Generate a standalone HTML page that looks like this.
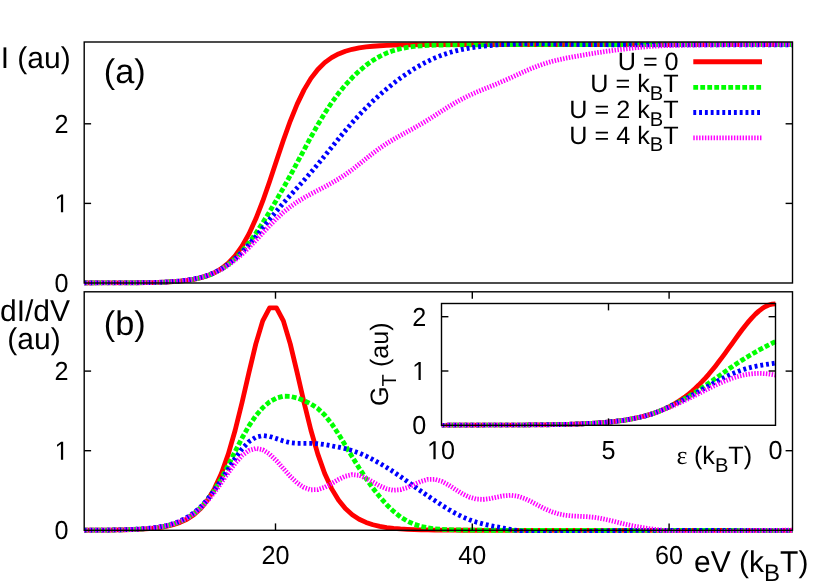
<!DOCTYPE html>
<html><head><meta charset="utf-8"><title>I-V and dI/dV</title>
<style>html,body{margin:0;padding:0;background:#fff;}body{width:830px;height:581px;overflow:hidden;position:relative;font-family:"Liberation Sans",sans-serif;}</style>
</head><body>
<svg width="830" height="581" viewBox="0 0 830 581" style="position:absolute;left:0;top:0;font-family:'Liberation Sans',sans-serif;will-change:transform" shape-rendering="geometricPrecision" text-rendering="geometricPrecision">
<rect x="0" y="0" width="830" height="581" fill="#ffffff"/>
<defs>
<clipPath id="ca"><rect x="84.2" y="42.0" width="708.3" height="243.6"/></clipPath>
<clipPath id="cb"><rect x="84.2" y="291.8" width="708.3" height="241.09999999999994"/></clipPath>
<clipPath id="ci"><rect x="441.5" y="301.1" width="335.0" height="126.4"/></clipPath>
</defs>
<g clip-path="url(#ca)">
<path d="M83.62,282.99 L90.51,282.98 L97.40,282.97 L104.28,282.96 L111.17,282.94 L118.06,282.92 L124.95,282.89 L131.84,282.84 L138.72,282.77 L145.61,282.68 L152.50,282.54 L159.39,282.35 L166.28,282.08 L173.16,281.69 L180.05,281.15 L186.94,280.38 L193.83,279.30 L200.72,277.78 L207.60,275.66 L214.49,272.72 L221.38,268.67 L228.27,263.17 L235.16,255.81 L242.04,246.17 L248.93,233.91 L255.82,218.87 L262.71,201.22 L269.60,181.53 L276.48,160.80 L283.37,140.25 L290.26,121.06 L297.15,104.11 L304.04,89.86 L310.92,78.38 L317.81,69.44 L324.70,62.65 L331.59,57.60 L338.48,53.90 L345.36,51.22 L352.25,49.29 L359.14,47.91 L366.03,46.93 L372.92,46.24 L379.80,45.74 L386.69,45.39 L393.58,45.15 L400.47,44.97 L407.36,44.85 L414.24,44.76 L421.13,44.70 L428.02,44.66 L434.91,44.63 L441.80,44.61 L448.68,44.59 L455.57,44.58 L462.46,44.58 L469.35,44.57 L476.24,44.57 L483.12,44.56 L490.01,44.56 L496.90,44.56 L503.79,44.56 L510.68,44.56 L517.56,44.56 L524.45,44.56 L531.34,44.56 L538.23,44.56 L545.12,44.56 L552.00,44.56 L558.89,44.56 L565.78,44.56 L572.67,44.56 L579.56,44.56 L586.44,44.56 L593.33,44.56 L600.22,44.56 L607.11,44.56 L614.00,44.56 L620.88,44.56 L627.77,44.56 L634.66,44.56 L641.55,44.56 L648.44,44.56 L655.32,44.56 L662.21,44.56 L669.10,44.56 L675.99,44.56 L682.88,44.56 L689.76,44.56 L696.65,44.56 L703.54,44.56 L710.43,44.56 L717.32,44.56 L724.20,44.56 L731.09,44.56 L737.98,44.56 L744.87,44.56 L751.76,44.56 L758.64,44.56 L765.53,44.56 L772.42,44.56 L779.31,44.56 L786.20,44.56 L793.08,44.56" fill="none" stroke="#ff0000" stroke-width="4.8" stroke-linejoin="round" stroke-linecap="butt"/>
<path d="M83.62,283.00 L90.51,282.99 L97.40,282.98 L104.28,282.96 L111.17,282.94 L118.06,282.92 L124.95,282.88 L131.84,282.83 L138.72,282.76 L145.61,282.67 L152.50,282.53 L159.39,282.33 L166.28,282.05 L173.16,281.65 L180.05,281.10 L186.94,280.32 L193.83,279.25 L200.72,277.75 L207.60,275.71 L214.49,272.95 L221.38,269.30 L228.27,264.57 L235.16,258.61 L242.04,251.37 L248.93,242.88 L255.82,233.29 L262.71,222.82 L269.60,211.68 L276.48,200.02 L283.37,187.94 L290.26,175.48 L297.15,162.71 L304.04,149.81 L310.92,137.03 L317.81,124.73 L324.70,113.24 L331.59,102.78 L338.48,93.40 L345.36,85.04 L352.25,77.61 L359.14,71.03 L366.03,65.29 L372.92,60.39 L379.80,56.32 L386.69,53.07 L393.58,50.56 L400.47,48.71 L407.36,47.38 L414.24,46.47 L421.13,45.86 L428.02,45.46 L434.91,45.20 L441.80,45.03 L448.68,44.92 L455.57,44.85 L462.46,44.80 L469.35,44.77 L476.24,44.74 L483.12,44.73 L490.01,44.72 L496.90,44.71 L503.79,44.70 L510.68,44.70 L517.56,44.70 L524.45,44.70 L531.34,44.70 L538.23,44.69 L545.12,44.69 L552.00,44.69 L558.89,44.69 L565.78,44.69 L572.67,44.69 L579.56,44.69 L586.44,44.69 L593.33,44.69 L600.22,44.69 L607.11,44.69 L614.00,44.69 L620.88,44.69 L627.77,44.69 L634.66,44.69 L641.55,44.69 L648.44,44.69 L655.32,44.69 L662.21,44.69 L669.10,44.69 L675.99,44.69 L682.88,44.69 L689.76,44.69 L696.65,44.69 L703.54,44.69 L710.43,44.69 L717.32,44.69 L724.20,44.69 L731.09,44.69 L737.98,44.69 L744.87,44.69 L751.76,44.69 L758.64,44.69 L765.53,44.69 L772.42,44.69 L779.31,44.69 L786.20,44.69 L793.08,44.69" fill="none" stroke="#00ff00" stroke-width="4.8" stroke-linejoin="round" stroke-linecap="butt" stroke-dasharray="4.8 2.2"/>
<path d="M83.62,283.00 L90.51,282.99 L97.40,282.97 L104.28,282.96 L111.17,282.94 L118.06,282.91 L124.95,282.87 L131.84,282.82 L138.72,282.75 L145.61,282.64 L152.50,282.49 L159.39,282.28 L166.28,281.98 L173.16,281.55 L180.05,280.96 L186.94,280.14 L193.83,279.01 L200.72,277.45 L207.60,275.35 L214.49,272.56 L221.38,268.94 L228.27,264.36 L235.16,258.76 L242.04,252.15 L248.93,244.65 L255.82,236.49 L262.71,227.98 L269.60,219.44 L276.48,211.10 L283.37,203.09 L290.26,195.38 L297.15,187.82 L304.04,180.22 L310.92,172.40 L317.81,164.30 L324.70,155.94 L331.59,147.43 L338.48,138.93 L345.36,130.62 L352.25,122.60 L359.14,114.98 L366.03,107.81 L372.92,101.08 L379.80,94.78 L386.69,88.86 L393.58,83.29 L400.47,78.07 L407.36,73.22 L414.24,68.77 L421.13,64.74 L428.02,61.12 L434.91,57.94 L441.80,55.18 L448.68,52.85 L455.57,50.91 L462.46,49.33 L469.35,48.05 L476.24,47.03 L483.12,46.20 L490.01,45.52 L496.90,44.96 L503.79,44.51 L510.68,44.17 L517.56,43.93 L524.45,43.79 L531.34,43.74 L538.23,43.76 L545.12,43.85 L552.00,43.97 L558.89,44.11 L565.78,44.25 L572.67,44.37 L579.56,44.48 L586.44,44.56 L593.33,44.63 L600.22,44.68 L607.11,44.72 L614.00,44.75 L620.88,44.77 L627.77,44.78 L634.66,44.79 L641.55,44.80 L648.44,44.80 L655.32,44.81 L662.21,44.81 L669.10,44.81 L675.99,44.81 L682.88,44.81 L689.76,44.82 L696.65,44.82 L703.54,44.82 L710.43,44.82 L717.32,44.82 L724.20,44.82 L731.09,44.82 L737.98,44.82 L744.87,44.82 L751.76,44.82 L758.64,44.82 L765.53,44.82 L772.42,44.82 L779.31,44.82 L786.20,44.82 L793.08,44.82" fill="none" stroke="#0000ff" stroke-width="4.8" stroke-linejoin="round" stroke-linecap="butt" stroke-dasharray="2.9 2.9"/>
<path d="M83.62,283.00 L90.51,282.99 L97.40,282.97 L104.28,282.96 L111.17,282.94 L118.06,282.91 L124.95,282.87 L131.84,282.82 L138.72,282.74 L145.61,282.63 L152.50,282.48 L159.39,282.27 L166.28,281.97 L173.16,281.54 L180.05,280.95 L186.94,280.14 L193.83,279.01 L200.72,277.49 L207.60,275.46 L214.49,272.79 L221.38,269.39 L228.27,265.16 L235.16,260.07 L242.04,254.15 L248.93,247.52 L255.82,240.36 L262.71,232.96 L269.60,225.62 L276.48,218.67 L283.37,212.35 L290.26,206.78 L297.15,201.95 L304.04,197.75 L310.92,193.97 L317.81,190.40 L324.70,186.81 L331.59,183.04 L338.48,178.97 L345.36,174.52 L352.25,169.59 L359.14,164.22 L366.03,158.66 L372.92,153.23 L379.80,148.14 L386.69,143.52 L393.58,139.33 L400.47,135.45 L407.36,131.71 L414.24,127.94 L421.13,124.00 L428.02,119.83 L434.91,115.46 L441.80,111.01 L448.68,106.64 L455.57,102.53 L462.46,98.76 L469.35,95.37 L476.24,92.29 L483.12,89.43 L490.01,86.64 L496.90,83.81 L503.79,80.85 L510.68,77.77 L517.56,74.61 L524.45,71.48 L531.34,68.51 L538.23,65.82 L545.12,63.46 L552.00,61.44 L558.89,59.72 L565.78,58.23 L572.67,56.90 L579.56,55.66 L586.44,54.49 L593.33,53.35 L600.22,52.26 L607.11,51.24 L614.00,50.30 L620.88,49.44 L627.77,48.63 L634.66,47.86 L641.55,47.15 L648.44,46.55 L655.32,46.10 L662.21,45.77 L669.10,45.54 L675.99,45.38 L682.88,45.24 L689.76,45.12 L696.65,45.02 L703.54,44.92 L710.43,44.84 L717.32,44.76 L724.20,44.70 L731.09,44.64 L737.98,44.59 L744.87,44.55 L751.76,44.52 L758.64,44.49 L765.53,44.47 L772.42,44.45 L779.31,44.43 L786.20,44.41 L793.08,44.40" fill="none" stroke="#ff00ff" stroke-width="4.8" stroke-linejoin="round" stroke-linecap="butt" stroke-dasharray="1.45 1.45"/>
</g>
<g clip-path="url(#cb)">
<path d="M83.62,530.24 L90.51,530.22 L97.40,530.18 L104.28,530.13 L111.17,530.06 L118.06,529.96 L124.95,529.81 L131.84,529.61 L138.72,529.32 L145.61,528.91 L152.50,528.33 L159.39,527.51 L166.28,526.36 L173.16,524.72 L180.05,522.43 L186.94,519.21 L193.83,514.73 L200.72,508.54 L207.60,500.06 L214.49,488.62 L221.38,473.52 L228.27,454.15 L235.16,430.29 L242.04,402.51 L248.93,372.63 L255.82,343.93 L262.71,320.86 L269.60,307.90 L276.48,307.90 L283.37,320.86 L290.26,343.93 L297.15,372.63 L304.04,402.51 L310.92,430.29 L317.81,454.15 L324.70,473.52 L331.59,488.62 L338.48,500.06 L345.36,508.54 L352.25,514.73 L359.14,519.21 L366.03,522.43 L372.92,524.72 L379.80,526.36 L386.69,527.51 L393.58,528.33 L400.47,528.91 L407.36,529.32 L414.24,529.61 L421.13,529.81 L428.02,529.96 L434.91,530.06 L441.80,530.13 L448.68,530.18 L455.57,530.22 L462.46,530.24 L469.35,530.26 L476.24,530.27 L483.12,530.28 L490.01,530.29 L496.90,530.29 L503.79,530.29 L510.68,530.29 L517.56,530.30 L524.45,530.30 L531.34,530.30 L538.23,530.30 L545.12,530.30 L552.00,530.30 L558.89,530.30 L565.78,530.30 L572.67,530.30 L579.56,530.30 L586.44,530.30 L593.33,530.30 L600.22,530.30 L607.11,530.30 L614.00,530.30 L620.88,530.30 L627.77,530.30 L634.66,530.30 L641.55,530.30 L648.44,530.30 L655.32,530.30 L662.21,530.30 L669.10,530.30 L675.99,530.30 L682.88,530.30 L689.76,530.30 L696.65,530.30 L703.54,530.30 L710.43,530.30 L717.32,530.30 L724.20,530.30 L731.09,530.30 L737.98,530.30 L744.87,530.30 L751.76,530.30 L758.64,530.30 L765.53,530.30 L772.42,530.30 L779.31,530.30 L786.20,530.30 L793.08,530.30" fill="none" stroke="#ff0000" stroke-width="4.8" stroke-linejoin="round" stroke-linecap="butt"/>
<path d="M83.62,530.20 L90.51,530.18 L97.40,530.15 L104.28,530.10 L111.17,530.02 L118.06,529.90 L124.95,529.74 L131.84,529.51 L138.72,529.19 L145.61,528.73 L152.50,528.08 L159.39,527.17 L166.28,525.89 L173.16,524.10 L180.05,521.63 L186.94,518.25 L193.83,513.67 L200.72,507.61 L207.60,499.77 L214.49,490.01 L221.38,478.36 L228.27,465.24 L235.16,451.44 L242.04,438.00 L248.93,425.89 L255.82,415.76 L262.71,407.76 L269.60,401.84 L276.48,397.98 L283.37,396.20 L290.26,396.37 L297.15,398.00 L304.04,400.56 L310.92,403.92 L317.81,408.52 L324.70,415.01 L331.59,423.64 L338.48,434.01 L345.36,445.36 L352.25,456.89 L359.14,468.04 L366.03,478.49 L372.92,488.13 L379.80,496.89 L386.69,504.68 L393.58,511.38 L400.47,516.88 L407.36,521.15 L414.24,524.28 L421.13,526.44 L428.02,527.88 L434.91,528.79 L441.80,529.35 L448.68,529.70 L455.57,529.92 L462.46,530.05 L469.35,530.14 L476.24,530.19 L483.12,530.23 L490.01,530.25 L496.90,530.26 L503.79,530.28 L510.68,530.28 L517.56,530.29 L524.45,530.29 L531.34,530.29 L538.23,530.30 L545.12,530.30 L552.00,530.30 L558.89,530.30 L565.78,530.30 L572.67,530.30 L579.56,530.30 L586.44,530.30 L593.33,530.30 L600.22,530.30 L607.11,530.30 L614.00,530.30 L620.88,530.30 L627.77,530.30 L634.66,530.30 L641.55,530.30 L648.44,530.30 L655.32,530.30 L662.21,530.30 L669.10,530.30 L675.99,530.30 L682.88,530.30 L689.76,530.30 L696.65,530.30 L703.54,530.30 L710.43,530.30 L717.32,530.30 L724.20,530.30 L731.09,530.30 L737.98,530.30 L744.87,530.30 L751.76,530.30 L758.64,530.30 L765.53,530.30 L772.42,530.30 L779.31,530.30 L786.20,530.30 L793.08,530.30" fill="none" stroke="#00ff00" stroke-width="4.8" stroke-linejoin="round" stroke-linecap="butt" stroke-dasharray="4.8 2.2"/>
<path d="M83.62,530.19 L90.51,530.17 L97.40,530.13 L104.28,530.08 L111.17,529.99 L118.06,529.87 L124.95,529.69 L131.84,529.44 L138.72,529.09 L145.61,528.59 L152.50,527.89 L159.39,526.90 L166.28,525.53 L173.16,523.63 L180.05,521.02 L186.94,517.50 L193.83,512.83 L200.72,506.79 L207.60,499.24 L214.49,490.19 L221.38,479.93 L228.27,469.03 L235.16,458.37 L242.04,448.94 L248.93,441.66 L255.82,437.17 L262.71,435.59 L269.60,436.42 L276.48,438.63 L283.37,441.03 L290.26,442.70 L297.15,443.37 L304.04,443.36 L310.92,443.30 L317.81,443.69 L324.70,444.61 L331.59,445.86 L338.48,447.22 L345.36,448.69 L352.25,450.53 L359.14,452.97 L366.03,456.03 L372.92,459.56 L379.80,463.39 L386.69,467.47 L393.58,471.86 L400.47,476.58 L407.36,481.50 L414.24,486.45 L421.13,491.29 L428.02,496.00 L434.91,500.63 L441.80,505.15 L448.68,509.47 L455.57,513.43 L462.46,516.88 L469.35,519.75 L476.24,522.07 L483.12,523.95 L490.01,525.52 L496.90,526.90 L503.79,528.18 L510.68,529.40 L517.56,530.57 L524.45,531.63 L531.34,532.52 L538.23,533.16 L545.12,533.50 L552.00,533.54 L558.89,533.34 L565.78,532.96 L572.67,532.51 L579.56,532.07 L586.44,531.66 L593.33,531.33 L600.22,531.06 L607.11,530.85 L614.00,530.70 L620.88,530.59 L627.77,530.50 L634.66,530.45 L641.55,530.40 L648.44,530.37 L655.32,530.35 L662.21,530.34 L669.10,530.33 L675.99,530.32 L682.88,530.31 L689.76,530.31 L696.65,530.31 L703.54,530.30 L710.43,530.30 L717.32,530.30 L724.20,530.30 L731.09,530.30 L737.98,530.30 L744.87,530.30 L751.76,530.30 L758.64,530.30 L765.53,530.30 L772.42,530.30 L779.31,530.30 L786.20,530.30 L793.08,530.30" fill="none" stroke="#0000ff" stroke-width="4.8" stroke-linejoin="round" stroke-linecap="butt" stroke-dasharray="2.9 2.9"/>
<path d="M83.62,530.20 L90.51,530.18 L97.40,530.14 L104.28,530.09 L111.17,530.01 L118.06,529.89 L124.95,529.72 L131.84,529.49 L138.72,529.15 L145.61,528.68 L152.50,528.01 L159.39,527.08 L166.28,525.77 L173.16,523.97 L180.05,521.49 L186.94,518.15 L193.83,513.70 L200.72,507.96 L207.60,500.79 L214.49,492.24 L221.38,482.65 L228.27,472.69 L235.16,463.32 L242.04,455.60 L248.93,450.45 L255.82,448.46 L262.71,449.77 L269.60,454.10 L276.48,460.71 L283.37,468.52 L290.26,476.29 L297.15,482.91 L304.04,487.55 L310.92,489.81 L317.81,489.62 L324.70,487.33 L331.59,483.61 L338.48,479.50 L345.36,476.16 L352.25,474.61 L359.14,475.32 L366.03,478.06 L372.92,481.97 L379.80,485.92 L386.69,488.90 L393.58,490.23 L400.47,489.70 L407.36,487.54 L414.24,484.42 L421.13,481.35 L428.02,479.37 L434.91,479.30 L441.80,481.34 L448.68,485.05 L455.57,489.55 L462.46,493.85 L469.35,497.16 L476.24,499.05 L483.12,499.43 L490.01,498.60 L496.90,497.13 L503.79,495.79 L510.68,495.31 L517.56,496.18 L524.45,498.43 L531.34,501.72 L538.23,505.42 L545.12,508.95 L552.00,511.88 L558.89,513.99 L565.78,515.29 L572.67,515.97 L579.56,516.31 L586.44,516.66 L593.33,517.27 L600.22,518.30 L607.11,519.73 L614.00,521.40 L620.88,523.14 L627.77,524.78 L634.66,526.25 L641.55,527.50 L648.44,528.55 L655.32,529.43 L662.21,530.19 L669.10,530.85 L675.99,531.40 L682.88,531.83 L689.76,532.12 L696.65,532.25 L703.54,532.22 L710.43,532.05 L717.32,531.80 L724.20,531.51 L731.09,531.22 L737.98,530.96 L744.87,530.74 L751.76,530.57 L758.64,530.44 L765.53,530.36 L772.42,530.30 L779.31,530.28 L786.20,530.27 L793.08,530.27" fill="none" stroke="#ff00ff" stroke-width="4.8" stroke-linejoin="round" stroke-linecap="butt" stroke-dasharray="1.45 1.45"/>
</g>
<g clip-path="url(#ci)">
<path d="M441.50,425.28 L444.84,425.28 L448.18,425.27 L451.52,425.27 L454.86,425.27 L458.20,425.26 L461.54,425.26 L464.88,425.26 L468.22,425.25 L471.56,425.25 L474.90,425.24 L478.24,425.23 L481.58,425.23 L484.92,425.22 L488.26,425.21 L491.60,425.20 L494.94,425.19 L498.28,425.18 L501.62,425.17 L504.96,425.15 L508.30,425.14 L511.64,425.12 L514.98,425.10 L518.32,425.08 L521.66,425.06 L525.00,425.03 L528.34,425.00 L531.68,424.97 L535.02,424.94 L538.36,424.90 L541.70,424.86 L545.04,424.81 L548.38,424.76 L551.72,424.70 L555.06,424.64 L558.40,424.57 L561.74,424.50 L565.08,424.41 L568.42,424.32 L571.76,424.22 L575.10,424.10 L578.44,423.98 L581.78,423.84 L585.12,423.69 L588.46,423.52 L591.80,423.33 L595.14,423.13 L598.48,422.90 L601.82,422.65 L605.16,422.37 L608.50,422.07 L611.84,421.74 L615.18,421.37 L618.52,420.96 L621.86,420.51 L625.20,420.02 L628.54,419.48 L631.88,418.88 L635.22,418.23 L638.56,417.51 L641.90,416.72 L645.24,415.85 L648.58,414.90 L651.92,413.86 L655.26,412.72 L658.60,411.48 L661.94,410.12 L665.28,408.63 L668.62,407.02 L671.96,405.26 L675.30,403.35 L678.64,401.28 L681.98,399.04 L685.32,396.63 L688.66,394.03 L692.00,391.24 L695.34,388.25 L698.68,385.06 L702.02,381.67 L705.36,378.08 L708.70,374.29 L712.04,370.31 L715.38,366.15 L718.72,361.84 L722.06,357.39 L725.40,352.83 L728.74,348.20 L732.08,343.53 L735.42,338.87 L738.76,334.26 L742.10,329.77 L745.44,325.45 L748.78,321.37 L752.12,317.57 L755.46,314.14 L758.80,311.12 L762.14,308.56 L765.48,306.52 L768.82,305.04 L772.16,304.13 L775.50,303.83" fill="none" stroke="#ff0000" stroke-width="4.8" stroke-linejoin="round" stroke-linecap="butt"/>
<path d="M441.50,425.28 L444.84,425.28 L448.18,425.27 L451.52,425.27 L454.86,425.27 L458.20,425.26 L461.54,425.26 L464.88,425.26 L468.22,425.25 L471.56,425.25 L474.90,425.24 L478.24,425.23 L481.58,425.23 L484.92,425.22 L488.26,425.21 L491.60,425.20 L494.94,425.19 L498.28,425.18 L501.62,425.17 L504.96,425.15 L508.30,425.14 L511.64,425.12 L514.98,425.10 L518.32,425.08 L521.66,425.06 L525.00,425.03 L528.34,425.00 L531.68,424.97 L535.02,424.94 L538.36,424.90 L541.70,424.86 L545.04,424.81 L548.38,424.76 L551.72,424.70 L555.06,424.64 L558.40,424.57 L561.74,424.50 L565.08,424.41 L568.42,424.32 L571.76,424.22 L575.10,424.10 L578.44,423.98 L581.78,423.84 L585.12,423.69 L588.46,423.52 L591.80,423.33 L595.14,423.13 L598.48,422.90 L601.82,422.65 L605.16,422.37 L608.50,422.07 L611.84,421.74 L615.18,421.37 L618.52,420.96 L621.86,420.51 L625.20,420.02 L628.54,419.48 L631.88,418.88 L635.22,418.23 L638.56,417.51 L641.90,416.72 L645.24,415.85 L648.58,414.90 L651.92,413.86 L655.26,412.72 L658.60,411.48 L661.94,410.12 L665.28,408.63 L668.62,407.02 L671.96,405.48 L675.30,403.86 L678.64,402.14 L681.98,400.34 L685.32,398.45 L688.66,396.47 L692.00,394.41 L695.34,392.28 L698.68,390.09 L702.02,387.84 L705.36,385.54 L708.70,383.21 L712.04,380.85 L715.38,378.47 L718.72,376.09 L722.06,373.72 L725.40,371.36 L728.74,369.04 L732.08,366.74 L735.42,364.49 L738.76,362.29 L742.10,360.13 L745.44,358.03 L748.78,355.99 L752.12,354.01 L755.46,352.08 L758.80,350.21 L762.14,348.39 L765.48,346.63 L768.82,344.92 L772.16,343.25 L775.50,341.62" fill="none" stroke="#00ff00" stroke-width="4.8" stroke-linejoin="round" stroke-linecap="butt" stroke-dasharray="4.8 2.2"/>
<path d="M441.50,425.28 L444.84,425.28 L448.18,425.27 L451.52,425.27 L454.86,425.27 L458.20,425.26 L461.54,425.26 L464.88,425.26 L468.22,425.25 L471.56,425.25 L474.90,425.24 L478.24,425.23 L481.58,425.23 L484.92,425.22 L488.26,425.21 L491.60,425.20 L494.94,425.19 L498.28,425.18 L501.62,425.17 L504.96,425.15 L508.30,425.14 L511.64,425.12 L514.98,425.10 L518.32,425.08 L521.66,425.06 L525.00,425.03 L528.34,425.00 L531.68,424.97 L535.02,424.94 L538.36,424.90 L541.70,424.86 L545.04,424.81 L548.38,424.76 L551.72,424.70 L555.06,424.64 L558.40,424.57 L561.74,424.50 L565.08,424.41 L568.42,424.32 L571.76,424.22 L575.10,424.10 L578.44,423.98 L581.78,423.84 L585.12,423.69 L588.46,423.52 L591.80,423.33 L595.14,423.13 L598.48,422.90 L601.82,422.65 L605.16,422.37 L608.50,422.07 L611.84,421.74 L615.18,421.37 L618.52,420.96 L621.86,420.51 L625.20,420.02 L628.54,419.48 L631.88,418.88 L635.22,418.23 L638.56,417.51 L641.90,416.72 L645.24,415.85 L648.58,414.90 L651.92,413.86 L655.26,412.72 L658.60,411.48 L661.94,410.12 L665.28,408.63 L668.62,407.02 L671.96,405.27 L675.30,403.75 L678.64,402.17 L681.98,400.52 L685.32,398.82 L688.66,397.06 L692.00,395.25 L695.34,393.41 L698.68,391.53 L702.02,389.64 L705.36,387.75 L708.70,385.85 L712.04,383.98 L715.38,382.14 L718.72,380.34 L722.06,378.60 L725.40,376.93 L728.74,375.34 L732.08,373.84 L735.42,372.44 L738.76,371.15 L742.10,369.97 L745.44,368.91 L748.78,367.96 L752.12,367.11 L755.46,366.37 L758.80,365.71 L762.14,365.12 L765.48,364.58 L768.82,364.09 L772.16,363.60 L775.50,363.11" fill="none" stroke="#0000ff" stroke-width="4.8" stroke-linejoin="round" stroke-linecap="butt" stroke-dasharray="2.9 2.9"/>
<path d="M441.50,425.28 L444.84,425.28 L448.18,425.27 L451.52,425.27 L454.86,425.27 L458.20,425.26 L461.54,425.26 L464.88,425.26 L468.22,425.25 L471.56,425.25 L474.90,425.24 L478.24,425.23 L481.58,425.23 L484.92,425.22 L488.26,425.21 L491.60,425.20 L494.94,425.19 L498.28,425.18 L501.62,425.17 L504.96,425.15 L508.30,425.14 L511.64,425.12 L514.98,425.10 L518.32,425.08 L521.66,425.06 L525.00,425.03 L528.34,425.00 L531.68,424.97 L535.02,424.94 L538.36,424.90 L541.70,424.86 L545.04,424.81 L548.38,424.76 L551.72,424.70 L555.06,424.64 L558.40,424.57 L561.74,424.50 L565.08,424.41 L568.42,424.32 L571.76,424.22 L575.10,424.10 L578.44,423.98 L581.78,423.84 L585.12,423.69 L588.46,423.52 L591.80,423.33 L595.14,423.13 L598.48,422.90 L601.82,422.65 L605.16,422.37 L608.50,422.07 L611.84,421.74 L615.18,421.37 L618.52,420.96 L621.86,420.51 L625.20,420.02 L628.54,419.48 L631.88,418.88 L635.22,418.23 L638.56,417.51 L641.90,416.72 L645.24,415.85 L648.58,414.90 L651.92,413.86 L655.26,412.72 L658.60,411.48 L661.94,410.20 L665.28,408.97 L668.62,407.68 L671.96,406.32 L675.30,404.90 L678.64,403.42 L681.98,401.88 L685.32,400.30 L688.66,398.67 L692.00,397.01 L695.34,395.32 L698.68,393.62 L702.02,391.92 L705.36,390.22 L708.70,388.54 L712.04,386.89 L715.38,385.28 L718.72,383.73 L722.06,382.25 L725.40,380.85 L728.74,379.54 L732.08,378.33 L735.42,377.23 L738.76,376.26 L742.10,375.42 L745.44,374.72 L748.78,374.16 L752.12,373.76 L755.46,373.51 L758.80,373.42 L762.14,373.48 L765.48,373.69 L768.82,374.04 L772.16,374.54 L775.50,375.15" fill="none" stroke="#ff00ff" stroke-width="4.8" stroke-linejoin="round" stroke-linecap="butt" stroke-dasharray="1.45 1.45"/>
</g>
<rect x="84.2" y="42.0" width="708.3" height="241.0" fill="none" stroke="#000" stroke-width="1.4"/>
<line x1="84.20" y1="203.40" x2="91.10" y2="203.40" stroke="#000" stroke-width="1.4"/>
<line x1="785.60" y1="203.40" x2="792.50" y2="203.40" stroke="#000" stroke-width="1.4"/>
<line x1="84.20" y1="123.80" x2="91.10" y2="123.80" stroke="#000" stroke-width="1.4"/>
<line x1="785.60" y1="123.80" x2="792.50" y2="123.80" stroke="#000" stroke-width="1.4"/>
<rect x="84.2" y="291.8" width="708.3" height="238.49999999999994" fill="none" stroke="#000" stroke-width="1.4"/>
<line x1="84.20" y1="450.70" x2="91.10" y2="450.70" stroke="#000" stroke-width="1.4"/>
<line x1="785.60" y1="450.70" x2="792.50" y2="450.70" stroke="#000" stroke-width="1.4"/>
<line x1="84.20" y1="371.10" x2="91.10" y2="371.10" stroke="#000" stroke-width="1.4"/>
<line x1="785.60" y1="371.10" x2="792.50" y2="371.10" stroke="#000" stroke-width="1.4"/>
<line x1="275.50" y1="523.40" x2="275.50" y2="530.30" stroke="#000" stroke-width="1.4"/>
<line x1="275.50" y1="291.80" x2="275.50" y2="298.70" stroke="#000" stroke-width="1.4"/>
<line x1="472.30" y1="523.40" x2="472.30" y2="530.30" stroke="#000" stroke-width="1.4"/>
<line x1="472.30" y1="291.80" x2="472.30" y2="298.70" stroke="#000" stroke-width="1.4"/>
<line x1="669.10" y1="523.40" x2="669.10" y2="530.30" stroke="#000" stroke-width="1.4"/>
<line x1="669.10" y1="291.80" x2="669.10" y2="298.70" stroke="#000" stroke-width="1.4"/>
<rect x="441.5" y="303.5" width="334.0" height="121.80000000000001" fill="none" stroke="#000" stroke-width="1.4"/>
<line x1="441.50" y1="371.00" x2="448.40" y2="371.00" stroke="#000" stroke-width="1.4"/>
<line x1="768.60" y1="371.00" x2="775.50" y2="371.00" stroke="#000" stroke-width="1.4"/>
<line x1="441.50" y1="316.70" x2="448.40" y2="316.70" stroke="#000" stroke-width="1.4"/>
<line x1="768.60" y1="316.70" x2="775.50" y2="316.70" stroke="#000" stroke-width="1.4"/>
<line x1="608.50" y1="418.40" x2="608.50" y2="425.30" stroke="#000" stroke-width="1.4"/>
<line x1="608.50" y1="303.50" x2="608.50" y2="310.40" stroke="#000" stroke-width="1.4"/>
<text x="0.70" y="68.30" font-size="30.0" text-anchor="start" fill="#000" >I (au)</text>
<text x="103.80" y="83.30" font-size="34.3" text-anchor="start" fill="#000" >(a)</text>
<g transform="matrix(1 0 0 1.035 0 -10.219)"><text x="54.58" y="291.97" font-size="25.2" text-anchor="start" fill="#000" >0</text></g>
<g transform="matrix(1 0 0 1.035 0 -7.433)"><path d="M60.92,212.37 L60.92,197.15 L57.01,199.94 L57.01,197.85 L61.11,195.03 L63.15,195.03 L63.15,212.37Z" fill="#000"/></g>
<g transform="matrix(1 0 0 1.035 0 -4.647)"><text x="54.58" y="132.77" font-size="25.2" text-anchor="start" fill="#000" >2</text></g>
<text x="678.60" y="70.40" font-size="25.2" text-anchor="end" fill="#000" >U = 0</text>
<text x="678.60" y="92.00" font-size="25.2" text-anchor="end" fill="#000" >U = k<tspan font-size="20.16" dy="7.56">B</tspan><tspan dy="-7.56">T</tspan></text>
<text x="678.60" y="118.10" font-size="25.2" text-anchor="end" fill="#000" >U = 2 k<tspan font-size="20.16" dy="7.56">B</tspan><tspan dy="-7.56">T</tspan></text>
<text x="678.60" y="143.50" font-size="25.2" text-anchor="end" fill="#000" >U = 4 k<tspan font-size="20.16" dy="7.56">B</tspan><tspan dy="-7.56">T</tspan></text>
<line x1="693.3" y1="61.75" x2="762" y2="61.75" stroke="#ff0000" stroke-width="4.8"/>
<line x1="693.3" y1="87.3" x2="762" y2="87.3" stroke="#00ff00" stroke-width="4.8" stroke-dasharray="4.8 2.2"/>
<line x1="693.3" y1="112.5" x2="762" y2="112.5" stroke="#0000ff" stroke-width="4.8" stroke-dasharray="2.9 2.9"/>
<line x1="693.3" y1="137.9" x2="762" y2="137.9" stroke="#ff00ff" stroke-width="4.8" stroke-dasharray="1.45 1.45"/>
<text x="35.00" y="321.20" font-size="30.0" text-anchor="middle" fill="#000" >dI/dV</text>
<text x="34.00" y="348.80" font-size="30.0" text-anchor="middle" fill="#000" >(au)</text>
<text x="103.80" y="334.60" font-size="34.3" text-anchor="start" fill="#000" >(b)</text>
<g transform="matrix(1 0 0 1.035 0 -18.874)"><text x="54.58" y="539.27" font-size="25.2" text-anchor="start" fill="#000" >0</text></g>
<g transform="matrix(1 0 0 1.035 0 -16.088)"><path d="M60.92,459.67 L60.92,444.45 L57.01,447.24 L57.01,445.15 L61.11,442.33 L63.15,442.33 L63.15,459.67Z" fill="#000"/></g>
<g transform="matrix(1 0 0 1.035 0 -13.302)"><text x="54.58" y="380.07" font-size="25.2" text-anchor="start" fill="#000" >2</text></g>
<g transform="matrix(1 0 0 1.035 0 -19.754)"><text x="261.48" y="564.40" font-size="25.2" text-anchor="start" fill="#000" >2</text><text x="275.50" y="564.40" font-size="25.2" text-anchor="start" fill="#000" >0</text></g>
<g transform="matrix(1 0 0 1.035 0 -19.754)"><text x="458.28" y="564.40" font-size="25.2" text-anchor="start" fill="#000" >4</text><text x="472.30" y="564.40" font-size="25.2" text-anchor="start" fill="#000" >0</text></g>
<g transform="matrix(1 0 0 1.035 0 -19.754)"><text x="655.08" y="564.40" font-size="25.2" text-anchor="start" fill="#000" >6</text><text x="669.10" y="564.40" font-size="25.2" text-anchor="start" fill="#000" >0</text></g>
<text x="694.00" y="571.70" font-size="30.0" text-anchor="start" fill="#000" >eV (k<tspan font-size="24.00" dy="9.00">B</tspan><tspan dy="-9.00">T</tspan>)</text>
<g transform="matrix(1 0 0 1.035 0 -15.199)"><text x="412.18" y="434.27" font-size="25.2" text-anchor="start" fill="#000" >0</text></g>
<g transform="matrix(1 0 0 1.035 0 -13.299)"><path d="M418.52,379.97 L418.52,364.75 L414.61,367.54 L414.61,365.45 L418.71,362.63 L420.75,362.63 L420.75,379.97Z" fill="#000"/></g>
<g transform="matrix(1 0 0 1.035 0 -11.398)"><text x="412.18" y="325.67" font-size="25.2" text-anchor="start" fill="#000" >2</text></g>
<g transform="matrix(1 0 0 1.035 0 -16.075)"><path d="M433.42,459.30 L433.42,444.08 L429.51,446.87 L429.51,444.78 L433.61,441.96 L435.65,441.96 L435.65,459.30Z" fill="#000"/><text x="441.10" y="459.30" font-size="25.2" text-anchor="start" fill="#000" >0</text></g>
<g transform="matrix(1 0 0 1.035 0 -16.075)"><text x="601.49" y="459.30" font-size="25.2" text-anchor="start" fill="#000" >5</text></g>
<g transform="matrix(1 0 0 1.035 0 -16.075)"><text x="768.49" y="459.30" font-size="25.2" text-anchor="start" fill="#000" >0</text></g>
<text x="676.60" y="464.00" font-size="25.2" text-anchor="start" fill="#000" ><tspan font-family="Liberation Serif" font-size="26">ε</tspan></text>
<text x="693.90" y="464.00" font-size="25.2" text-anchor="start" fill="#000" >(k<tspan font-size="20.16" dy="7.56">B</tspan><tspan dy="-7.56">T</tspan>)</text>
<text transform="translate(388.3,406.0) rotate(-90)" font-size="25.2" fill="#000">G<tspan font-size="20.16" dy="7.56">T</tspan><tspan dy="-7.56"> (au)</tspan></text>
</svg>
</body></html>
